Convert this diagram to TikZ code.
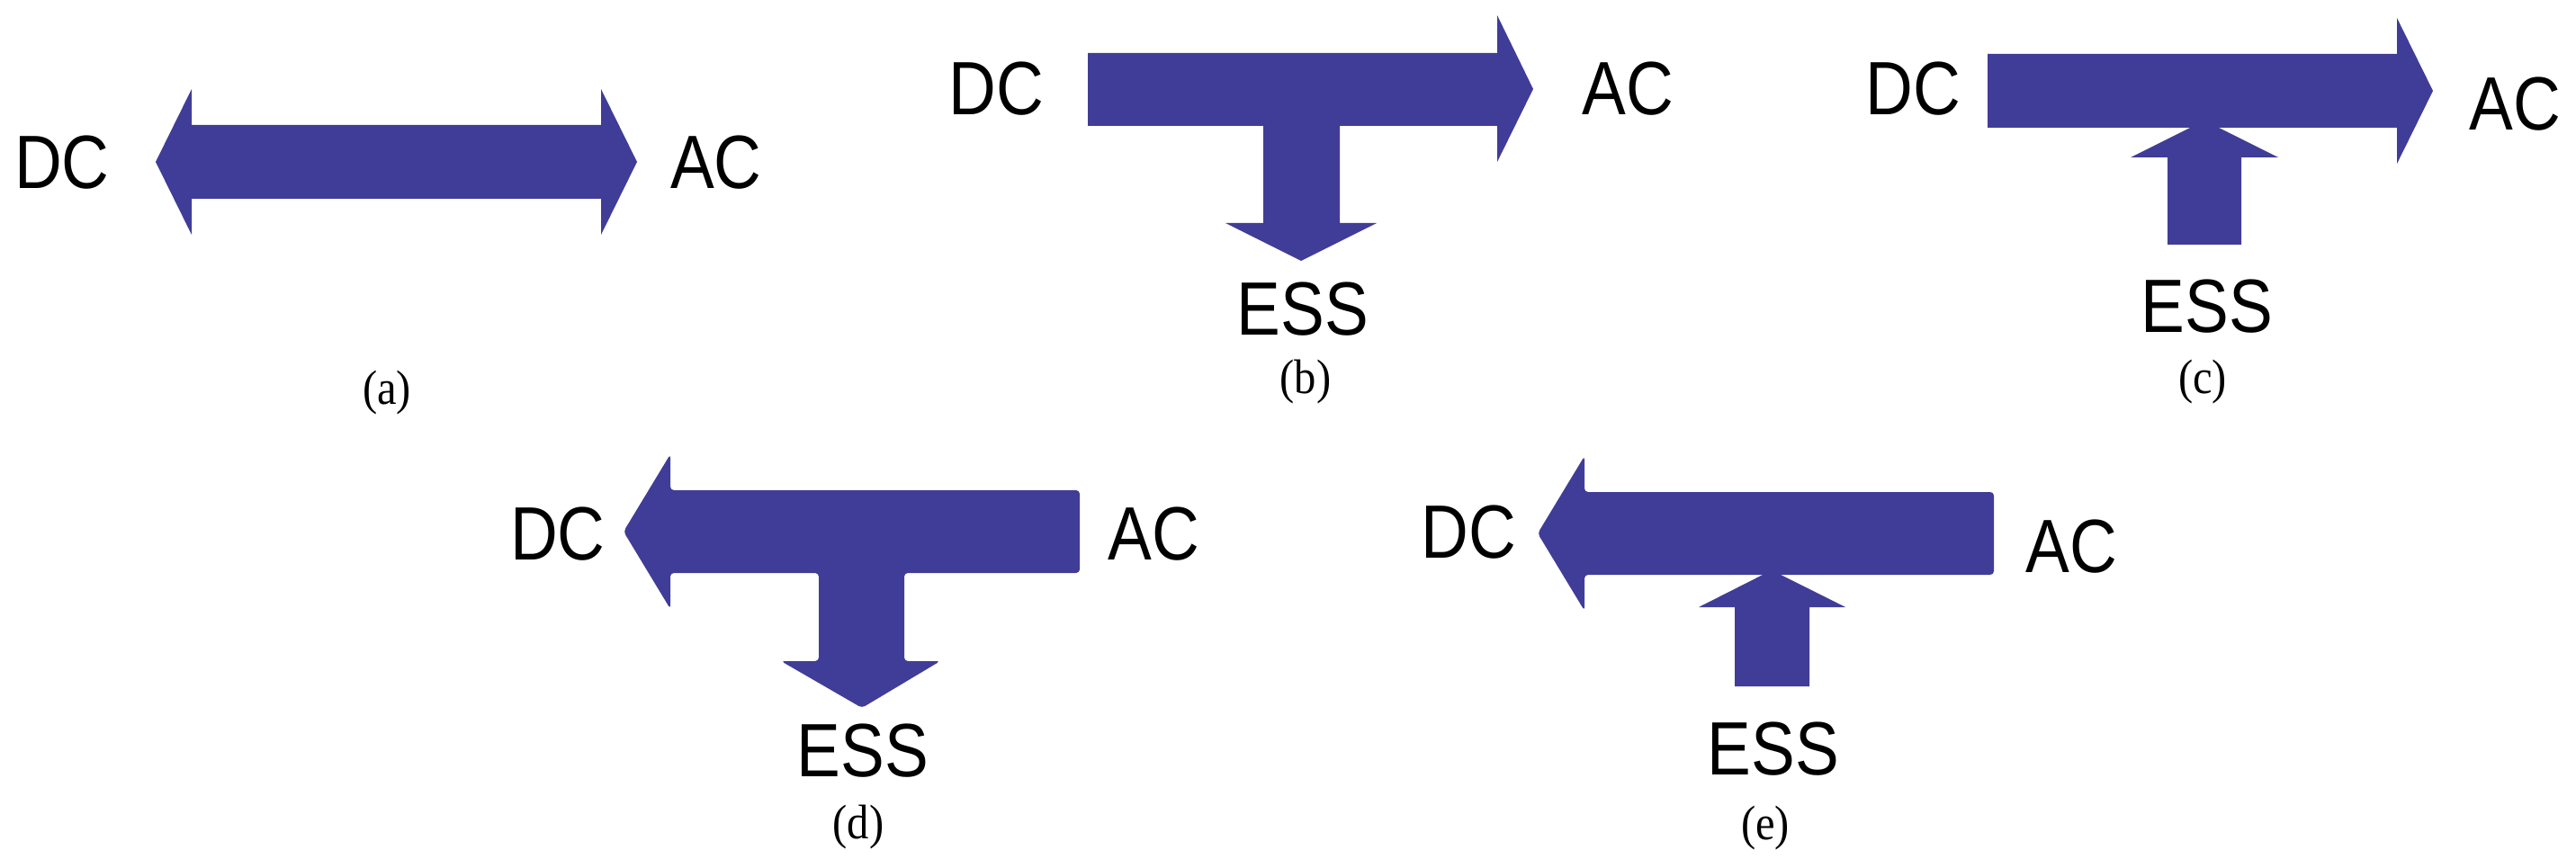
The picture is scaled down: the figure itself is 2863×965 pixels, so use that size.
\documentclass[tikz,border=0pt]{standalone}
\usepackage{fontspec}
\setmainfont{Liberation Serif}
\newfontfamily\labfont{Liberation Sans}
\newfontfamily\capfont{Liberation Serif}
\definecolor{arrowblue}{RGB}{64,61,152}
\begin{document}
\begin{tikzpicture}[x=1pt,y=-1pt,
  lab/.style={font=\labfont\fontsize{84}{100}\selectfont, inner sep=0pt, anchor=base, xscale=0.87, transform shape},
  subcap/.style={font=\capfont\fontsize{54}{64}\selectfont, inner sep=0pt, anchor=center, xscale=0.9, transform shape},
  blockarrow/.style={fill=arrowblue, draw=none},
  softarrow/.style={blockarrow, rounded corners=4pt}]
\useasboundingbox (0,0) rectangle (2863,965);

% (a)
\fill[blockarrow] (173,180) -- (213,99) -- (213,139) -- (668,139) -- (668,99) -- (708,180)
  -- (668,261) -- (668,221) -- (213,221) -- (213,261) -- cycle;
\node[lab] (aDC) at (69,210) {DC};
\node[lab] (aAC) at (796,210) {AC};
\node[subcap] (acap) at (430,437) {(a)};

% (b)
\fill[blockarrow] (1209,59) -- (1664,59) -- (1664,17) -- (1704,99) -- (1664,180) -- (1664,140)
  -- (1489,140) -- (1489,248) -- (1530,248) -- (1446,290) -- (1362,248) -- (1404,248)
  -- (1404,140) -- (1209,140) -- cycle;
\node[lab] (bDC) at (1107,128) {DC};
\node[lab] (bAC) at (1809,128) {AC};
\node[lab] (bESS) at (1448,372) {ESS};
\node[subcap] (bcap) at (1451,425) {(b)};

% (c)
\fill[blockarrow] (2209,60) -- (2664,60) -- (2664,20) -- (2704,101) -- (2664,182) -- (2664,142)
  -- (2209,142) -- cycle;
\fill[blockarrow] (2450,134) -- (2532,175) -- (2491,175) -- (2491,272) -- (2409,272)
  -- (2409,175) -- (2368,175) -- cycle;
\node[lab] (cDC) at (2126,128) {DC};
\node[lab] (cAC) at (2795,145) {AC};
\node[lab] (cESS) at (2453,370) {ESS};
\node[subcap] (ccap) at (2448,425) {(c)};

% (d)
\fill[softarrow] (693,591) -- (745,505) -- (745,545) -- (1200,545) -- (1200,637) -- (1005,637)
  -- (1005,735) -- (1045,735) -- (958,787) -- (868,735) -- (910,735) -- (910,637)
  -- (745,637) -- (745,677) -- cycle;
\node[lab] (dDC) at (620,622) {DC};
\node[lab] (dAC) at (1282,622) {AC};
\node[lab] (dESS) at (959,863) {ESS};
\node[subcap] (dcap) at (954,920) {(d)};

% (e)
\fill[softarrow] (1709,593) -- (1761,507) -- (1761,547) -- (2216,547) -- (2216,639)
  -- (1761,639) -- (1761,679) -- cycle;
\fill[blockarrow] (1969,634) -- (2051,675) -- (2011,675) -- (2011,763) -- (1928,763)
  -- (1928,675) -- (1888,675) -- cycle;
\node[lab] (eDC) at (1632,620) {DC};
\node[lab] (eAC) at (2302,636) {AC};
\node[lab] (eESS) at (1971,861) {ESS};
\node[subcap] (ecap) at (1962,921) {(e)};
\end{tikzpicture}
\end{document}
